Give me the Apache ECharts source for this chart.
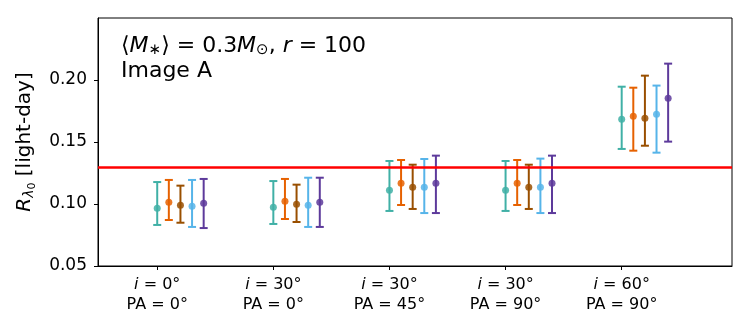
<!DOCTYPE html>
<html>
<head>
<meta charset="utf-8">
<script src="https://cdn.jsdelivr.net/npm/echarts@6/dist/echarts.min.js"></script>
<style>
  html, body { margin: 0; padding: 0; background: #fff; }
  #map { width: 750px; height: 330px; }
</style>
</head>
<body>
<div id="map"></div>
<script>
// group labels along x
let inc = ['0', '30', '30', '30', '60'];
let pa = ['0', '0', '45', '90', '90'];
// offset of each series inside a group (in x units)
let offsets = [0, 0.1, 0.2, 0.3, 0.4];
let colors = ['#40B0A6', '#E66100', '#994F00', '#56B4E9', '#5D3A9B'];

// value, lower and upper end of error bar, per series
let mid1 = [0.0965, 0.0973, 0.1110, 0.1110, 0.1683];
let low1 = [0.0831, 0.0839, 0.0944, 0.0944, 0.1444];
let high1 = [0.1177, 0.1185, 0.1347, 0.1347, 0.1946];

let mid2 = [0.1014, 0.1022, 0.1167, 0.1167, 0.1707];
let low2 = [0.0871, 0.0879, 0.0992, 0.0992, 0.1430];
let high2 = [0.1194, 0.1202, 0.1355, 0.1355, 0.1938];

let mid3 = [0.0990, 0.0998, 0.1135, 0.1135, 0.1691];
let low3 = [0.0849, 0.0855, 0.0960, 0.0960, 0.1470];
let high3 = [0.1148, 0.1156, 0.1317, 0.1317, 0.2035];

let mid4 = [0.0981, 0.0990, 0.1135, 0.1135, 0.1723];
let low4 = [0.0815, 0.0815, 0.0927, 0.0927, 0.1414];
let high4 = [0.1194, 0.1212, 0.1363, 0.1366, 0.1955];

let mid5 = [0.1006, 0.1014, 0.1167, 0.1167, 0.1852];
let low5 = [0.0806, 0.0815, 0.0927, 0.0927, 0.1503];
let high5 = [0.1202, 0.1212, 0.1390, 0.1390, 0.2132];

let refLine = 0.128;

let mids = [mid1, mid2, mid3, mid4, mid5];
let lows = [low1, low2, low3, low4, low5];
let highs = [high1, high2, high3, high4, high5];

let font = 'DejaVu Sans';
let myChart = echarts.init(document.getElementById('map'));

function errorBar(params, api){
    let x = api.value(0);
    let p1 = api.coord([x, api.value(1)]);
    let p2 = api.coord([x, api.value(2)]);
    let c = api.visual('color');
    let hw = 4;
    let style = {stroke: c, lineWidth: 2};
    return {
        type: 'group',
        children: [
            {type: 'line', shape: {x1: p1[0], y1: p1[1], x2: p2[0], y2: p2[1]}, style: style},
            {type: 'line', shape: {x1: p1[0] - hw, y1: p1[1], x2: p1[0] + hw, y2: p1[1]}, style: style},
            {type: 'line', shape: {x1: p2[0] - hw, y1: p2[1], x2: p2[0] + hw, y2: p2[1]}, style: style}
        ]
    };
}

let series = [];
mids.forEach((m, k) => {
    let bars = [], pts = [];
    m.forEach((v, g) => {
        let x = g + offsets[k];
        bars.push([x, lows[k][g], highs[k][g]]);
        pts.push([x, v]);
    });
    series.push({
        type: 'custom',
        renderItem: errorBar,
        itemStyle: {color: colors[k]},
        data: bars,
        z: 3
    });
    series.push({
        type: 'scatter',
        symbolSize: 7,
        itemStyle: {color: colors[k], opacity: 0.85},
        data: pts,
        z: 4
    });
});
series.push({
    type: 'line',
    data: [],
    markLine: {
        silent: true,
        symbol: 'none',
        label: {show: false},
        lineStyle: {color: '#ff0000', width: 2.5, type: 'solid'},
        data: [{yAxis: refLine}]
    },
    z: 2
});

let option = {
    animation: false,
    backgroundColor: '#fff',
    grid: {
        left: 98, right: 18, top: 18, bottom: 64,
        show: true, borderColor: '#000', borderWidth: 1
    },
    xAxis: {
        type: 'value',
        min: -0.51,
        max: 4.95,
        splitLine: {show: false},
        axisLine: {onZero: false, lineStyle: {color: '#000', width: 1}},
        axisTick: {customValues: [0, 1, 2, 3, 4], length: 4, lineStyle: {color: '#000'}},
        axisLabel: {
            customValues: [0, 1, 2, 3, 4],
            margin: 9,
            color: '#000',
            fontFamily: font,
            fontSize: 16,
            lineHeight: 20,
            formatter: v => '{it|i} = ' + inc[v] + '°\nPA = ' + pa[v] + '°',
            rich: {
                it: {fontStyle: 'italic', fontFamily: font, fontSize: 16, color: '#000'}
            }
        }
    },
    yAxis: {
        type: 'value',
        min: 0.05,
        max: 0.25,
        interval: 0.05,
        splitLine: {show: false},
        axisLine: {show: true, onZero: false, lineStyle: {color: '#000', width: 1}},
        axisTick: {show: true, length: 4, lineStyle: {color: '#000'}},
        axisLabel: {
            color: '#000',
            fontFamily: font,
            fontSize: 17,
            margin: 11,
            showMaxLabel: false,
            formatter: v => v.toFixed(2)
        },
        name: '{r|R}{s|λ}{ss|0} [light-day]',
        nameLocation: 'middle',
        nameGap: 60,
        nameRotate: 90,
        nameTextStyle: {
            color: '#000',
            fontFamily: font,
            fontSize: 20,
            rich: {
                r: {fontStyle: 'italic', fontFamily: font, fontSize: 20, color: '#000'},
                s: {fontStyle: 'italic', fontFamily: font, fontSize: 14, color: '#000', padding: [9, 0, 0, 0]},
                ss: {fontFamily: font, fontSize: 11, color: '#000', padding: [15, 0, 0, 0]}
            }
        }
    },
    graphic: [{
        type: 'text',
        left: 121,
        top: 34,
        style: {
            text: '⟨{i|M}{sub|∗}⟩ = 0.3{i|M}{sub|⊙}, {i|r} = 100\nImage A',
            fontFamily: font,
            fontSize: 22,
            lineHeight: 25,
            fill: '#000',
            rich: {
                i: {fontStyle: 'italic', fontFamily: font, fontSize: 22},
                sub: {fontFamily: font, fontSize: 15, padding: [8, 0, 0, 0]}
            }
        }
    }],
    series: series
};
myChart.setOption(option);
</script>
</body>
</html>
